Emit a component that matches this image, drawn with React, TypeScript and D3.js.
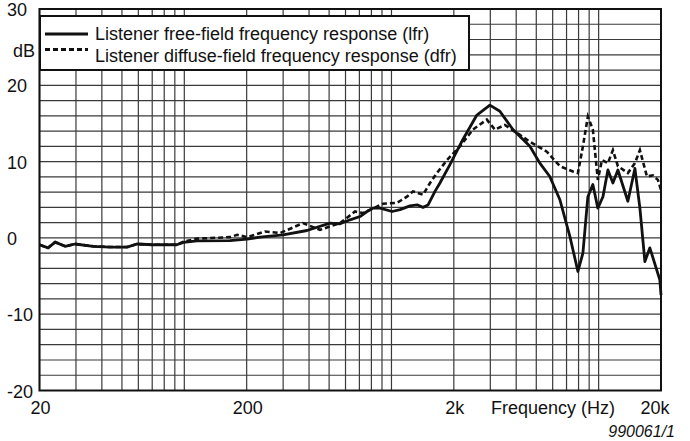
import { useEffect, useRef } from "react";
import * as d3 from "d3";

// Listener free-field frequency response (lfr)
const lfrFreq = [20, 22, 23.8, 26.6, 29.7, 36.3, 44, 53, 59, 70, 92, 99, 115, 166, 201, 232, 300, 391, 505, 565, 631, 705, 762, 815, 881, 1007, 1100, 1228, 1329, 1420, 1500, 1622, 1714, 1915, 2212, 2584, 2985, 3336, 3856, 4657, 5203, 5810, 6501, 7263, 7943, 8396, 8872, 9377, 9911, 10490, 11086, 11719, 12387, 13840, 14966, 15820, 16720, 17670, 19740, 20000];
const lfrDb = [-0.9, -1.3, -0.55, -1.1, -0.8, -1.1, -1.2, -1.2, -0.8, -0.9, -0.9, -0.6, -0.4, -0.35, -0.15, 0.1, 0.4, 0.97, 1.94, 1.85, 2.37, 2.8, 3.46, 3.9, 3.9, 3.46, 3.7, 4.2, 4.34, 4.0, 4.3, 6.1, 7.2, 9.6, 12.9, 16.1, 17.4, 16.6, 14.2, 12.0, 9.8, 8.05, 5.0, 0.2, -4.4, -2.0, 5.4, 7.0, 3.9, 5.4, 8.9, 7.2, 8.9, 4.8, 9.1, 3.9, -3.1, -1.3, -5.5, -7.5];

// Listener diffuse-field frequency response (dfr)
const dfrFreq = [20, 22, 23.8, 26.6, 29.7, 36.3, 44, 53, 59, 70, 92, 99, 115, 166, 180, 201, 245, 290, 374, 452, 565, 667, 729, 910, 1064, 1188, 1271, 1420, 1535, 1657, 1853, 2140, 2473, 2886, 3155, 3525, 4168, 4657, 5624, 6501, 7518, 7943, 8396, 8872, 9377, 9911, 10376, 11086, 11719, 12387, 13840, 14966, 15820, 17110, 18280, 19320, 20000];
const dfrDb = [-0.9, -1.3, -0.55, -1.1, -0.8, -1.1, -1.2, -1.2, -0.8, -0.9, -0.9, -0.5, -0.1, 0.1, 0.4, 0.1, 0.84, 0.63, 1.94, 1.06, 1.94, 3.46, 3.25, 4.47, 4.6, 5.4, 6.1, 5.65, 7.2, 8.5, 10.2, 12.0, 14.2, 15.5, 14.2, 14.8, 13.5, 12.6, 11.3, 9.4, 8.7, 8.5, 12.0, 15.9, 14.2, 7.6, 10.2, 9.8, 11.5, 9.4, 8.5, 9.8, 11.5, 8.05, 8.2, 7.6, 6.3];

const xTickLabels = [
  { f: 20, label: "20" },
  { f: 200, label: "200" },
  { f: 2000, label: "2k" },
  { f: 20000, label: "20k" },
];
const yTickLabels = [30, 20, 10, 0, -10, -20];
const legendLabels = [
  "Listener free-field frequency response (lfr)",
  "Listener diffuse-field frequency response (dfr)",
];

const FONT = "'Liberation Sans', Arial, sans-serif";

export default function App() {
  const ref = useRef<SVGSVGElement>(null);

  useEffect(() => {
    if (!ref.current) return;
    const svg = d3.select(ref.current);
    svg.selectAll("*").remove();

    const x = d3.scaleLog().domain([20, 20000]).range([39.5, 661]);
    const y = d3.scaleLinear().domain([-20, 30]).range([390.5, 9]);

    const xGrid = [
      ...d3.range(20, 100, 10),
      ...d3.range(100, 1000, 100),
      ...d3.range(1000, 10000, 1000),
      10000,
      20000,
    ];
    const yGrid = d3.range(-20, 31, 2);

    const grid = svg.append("g").attr("stroke", "#3a3a3a").attr("stroke-width", 1.2);
    grid.selectAll("line.v")
      .data(xGrid)
      .enter()
      .append("line")
      .attr("x1", (d) => x(d))
      .attr("x2", (d) => x(d))
      .attr("y1", y(30))
      .attr("y2", y(-20));
    grid.selectAll("line.h")
      .data(yGrid)
      .enter()
      .append("line")
      .attr("x1", x(20))
      .attr("x2", x(20000))
      .attr("y1", (d) => y(d))
      .attr("y2", (d) => y(d));

    // curves
    const line = d3.line<[number, number]>()
      .x((d) => x(d[0]))
      .y((d) => y(d[1]));

    svg.append("path")
      .datum(dfrFreq.map((f, i) => [f, dfrDb[i]] as [number, number]))
      .attr("d", line)
      .attr("fill", "none")
      .attr("stroke", "#111")
      .attr("stroke-width", 2.6)
      .attr("stroke-dasharray", "5,3");

    svg.append("path")
      .datum(lfrFreq.map((f, i) => [f, lfrDb[i]] as [number, number]))
      .attr("d", line)
      .attr("fill", "none")
      .attr("stroke", "#111")
      .attr("stroke-width", 2.8)
      .attr("stroke-linejoin", "round");

    // frame
    svg.append("rect")
      .attr("x", x(20))
      .attr("y", y(30))
      .attr("width", x(20000) - x(20))
      .attr("height", y(-20) - y(30))
      .attr("fill", "none")
      .attr("stroke", "#111")
      .attr("stroke-width", 2);

    // legend
    const lg = svg.append("g");
    lg.append("rect")
      .attr("x", 40)
      .attr("y", 16)
      .attr("width", 429)
      .attr("height", 54)
      .attr("fill", "#fff")
      .attr("stroke", "#111")
      .attr("stroke-width", 2);
    legendLabels.forEach((label, i) => {
      const ly = 34 + i * 15.5;
      lg.append("line")
        .attr("x1", 45)
        .attr("x2", 88)
        .attr("y1", ly)
        .attr("y2", ly)
        .attr("stroke", "#111")
        .attr("stroke-width", 3)
        .attr("stroke-dasharray", i === 1 ? "5,3" : null);
      lg.append("text")
        .attr("x", 95)
        .attr("y", 39.5 + i * 22)
        .style("font-family", FONT)
        .style("font-size", "18px")
        .style("fill", "#111")
        .text(label);
    });

    // axis labels
    const labels = svg.append("g")
      .style("font-family", FONT)
      .style("font-size", "18px")
      .style("fill", "#111");
    labels.selectAll("text.y")
      .data(yTickLabels)
      .enter()
      .append("text")
      .attr("x", 7)
      .attr("y", (d) => y(d) + 7)
      .text((d) => String(d));
    labels.append("text").attr("x", 13).attr("y", 56.5).text("dB");
    labels.selectAll("text.x")
      .data(xTickLabels)
      .enter()
      .append("text")
      .attr("x", (d) => (d.f === 20000 ? x(d.f) - 6 : x(d.f) + 1))
      .attr("y", 414)
      .attr("text-anchor", "middle")
      .text((d) => d.label);
    labels.append("text")
      .attr("x", 553)
      .attr("y", 414)
      .attr("text-anchor", "middle")
      .text("Frequency (Hz)");
    svg.append("text")
      .attr("x", 675)
      .attr("y", 437)
      .attr("text-anchor", "end")
      .style("font-family", FONT)
      .style("font-size", "16px")
      .style("font-style", "italic")
      .style("fill", "#111")
      .text("990061/1");
  }, []);

  return (
    <svg
      ref={ref}
      width={690}
      height={441}
      style={{ position: "absolute", left: 0, top: 0, background: "#fff" }}
    />
  );
}
